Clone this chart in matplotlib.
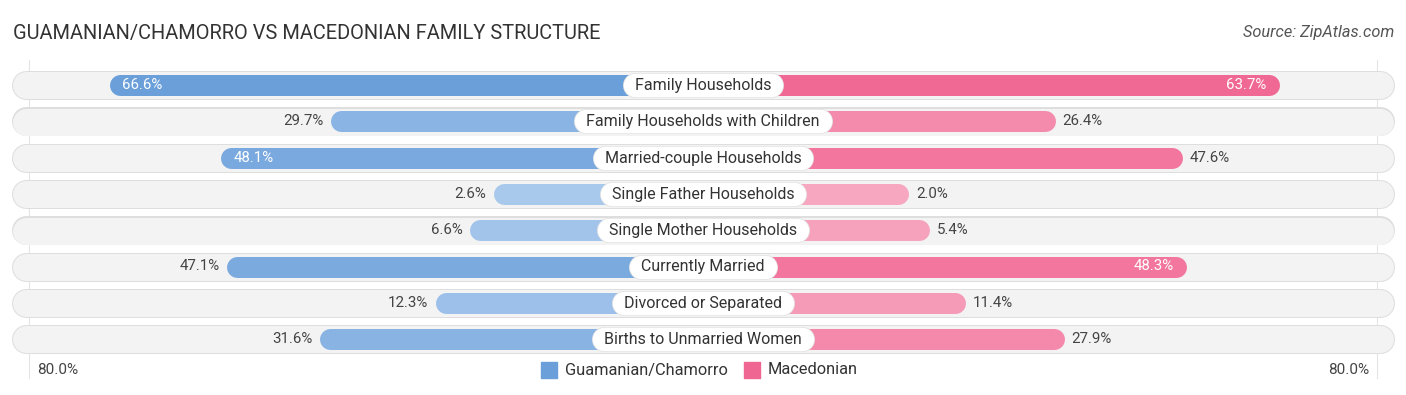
import numpy as np
import matplotlib.pyplot as plt
import matplotlib.colors as mcolors

# data
categories = ['Family Households', 'Family Households with Children', 'Married-couple Households',
              'Single Father Households', 'Single Mother Households', 'Currently Married',
              'Divorced or Separated', 'Births to Unmarried Women']
guam = [66.6, 29.7, 48.1, 2.6, 6.6, 47.1, 12.3, 31.6]
mace = [63.7, 26.4, 47.6, 2.0, 5.4, 48.3, 11.4, 27.9]
series_names = ['Guamanian/Chamorro', 'Macedonian']
axis_label = '80.0%'

plt.rcParams['font.family'] = ['Roboto', 'DejaVu Sans']

W, H = 1406, 395
fig = plt.figure(figsize=(W / 100, H / 100), dpi=100)
ax = fig.add_axes([0, 0, 1, 1])

ppu = 6.0            # pixels per percent
off = 194 / ppu      # label gap (in percent units)
half = (W / 2) / ppu
ax.set_xlim(-half, half)
ax.set_ylim(H, 0)    # y in pixel rows
ax.axis('off')

row0, dy = 85, 36.3
blue_full, blue_light = np.array(mcolors.to_rgb('#6a9fd9')), np.array(mcolors.to_rgb('#adcbee'))
pink_full, pink_light = np.array(mcolors.to_rgb('#f06692')), np.array(mcolors.to_rgb('#f7abc3'))
vmax = max(max(guam), max(mace))

def shade(full, light, v):
    t = (v / vmax) ** 0.8
    return tuple(light + (full - light) * t)

pt = 72 / 100  # points per pixel
bg_r = 14 / ppu
bar_r = 10.5 / ppu

# faint vertical guides at 80%
for s in (-1, 1):
    ax.plot([s * (off + 80)] * 2, [60, 378], color='#e4e4e4', lw=0.8, zorder=0)

renderer = fig.canvas.get_renderer()

for i, cat in enumerate(categories):
    y = row0 + i * dy
    # background pill
    xl, xr = -(W / 2 - 12) / ppu + bg_r, (W / 2 - 12) / ppu - bg_r
    ax.plot([xl, xr], [y, y], color='#dedede', lw=29 * pt, solid_capstyle='round', zorder=1)
    ax.plot([xl, xr], [y + 0.3, y + 0.3], color='#f3f3f3', lw=27 * pt, solid_capstyle='round', zorder=1)

    g, m = guam[i], mace[i]
    ax.plot([-(off + g) + bar_r, 0], [y, y], color=shade(blue_full, blue_light, g),
            lw=21 * pt, solid_capstyle='round', zorder=2)
    ax.plot([0, off + m - bar_r], [y, y], color=shade(pink_full, pink_light, m),
            lw=21 * pt, solid_capstyle='round', zorder=2)

    t = ax.text(0, y + 0.5, cat, ha='center', va='center', fontsize=11.5, color='#333333', zorder=5)
    tw = t.get_window_extent(renderer).width / ppu
    ax.plot([-tw / 2, tw / 2], [y, y], color='#e2e2e2', lw=25 * pt, solid_capstyle='round', zorder=3)
    ax.plot([-tw / 2, tw / 2], [y, y], color='white', lw=23.5 * pt, solid_capstyle='round', zorder=4)

    if g >= 48:
        ax.text(-(off + g) + 13 / ppu, y, f'{g:.1f}%', ha='left', va='center',
                fontsize=10.8, color='white', zorder=3)
    else:
        ax.text(-(off + g) - 7 / ppu, y, f'{g:.1f}%', ha='right', va='center',
                fontsize=10.8, color='#444444', zorder=3)
    if m >= 48:
        ax.text(off + m - 13 / ppu, y, f'{m:.1f}%', ha='right', va='center',
                fontsize=10.8, color='white', zorder=3)
    else:
        ax.text(off + m + 7 / ppu, y, f'{m:.1f}%', ha='left', va='center',
                fontsize=10.8, color='#444444', zorder=3)

# title and source
fig.text(13 / W, 1 - 33 / H, 'GUAMANIAN/CHAMORRO VS MACEDONIAN FAMILY STRUCTURE',
         ha='left', va='center', fontsize=14.4, color='#333333')
fig.text(1 - 12 / W, 1 - 33 / H, 'Source: ZipAtlas.com', ha='right', va='center',
         fontsize=11.8, color='#555555', style='italic')

# bottom axis labels
ly = 370
ax.text(-(W / 2 - 37) / ppu, ly, axis_label, ha='left', va='center', fontsize=11, color='#444444')
ax.text((W / 2 - 37) / ppu, ly, axis_label, ha='right', va='center', fontsize=11, color='#444444')

# legend
ax.scatter([(549 - W / 2) / ppu], [ly], marker='s', s=(16 * pt) ** 2, color='#6a9fd9', zorder=3)
ax.text((565 - W / 2) / ppu, ly, series_names[0], ha='left', va='center', fontsize=11.8, color='#333333')
ax.scatter([(752 - W / 2) / ppu], [ly], marker='s', s=(16 * pt) ** 2, color='#f06692', zorder=3)
ax.text((768 - W / 2) / ppu, ly, series_names[1], ha='left', va='center', fontsize=11.8, color='#333333')

fig.savefig('out.png', dpi=100)
